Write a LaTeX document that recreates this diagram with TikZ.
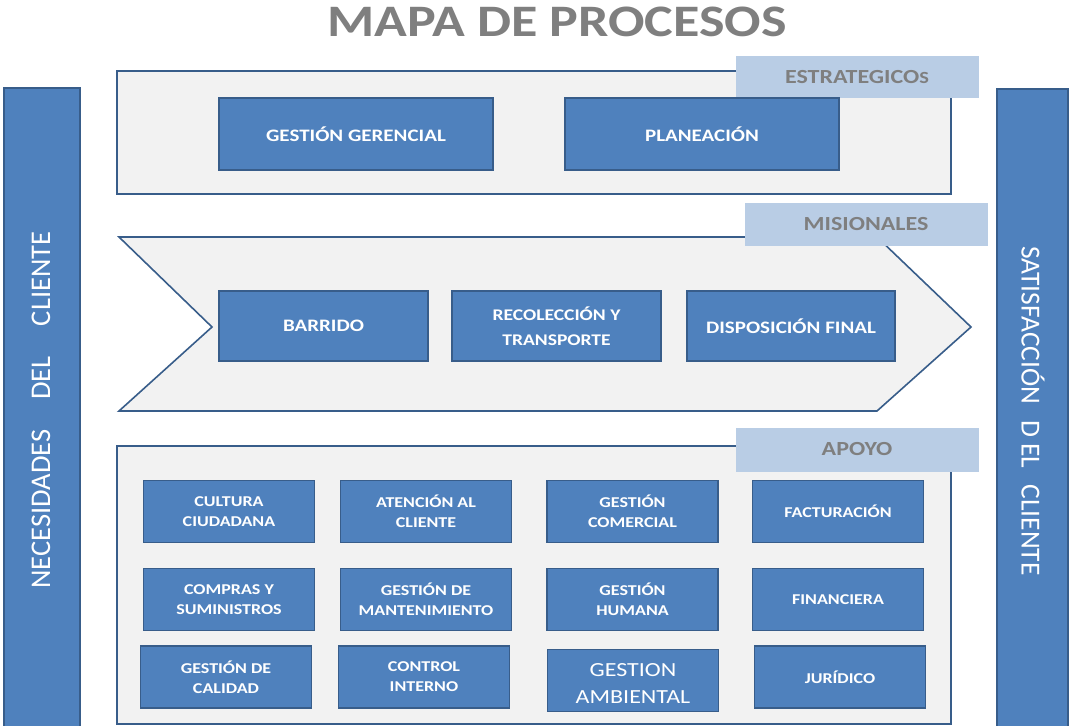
\documentclass[tikz,border=0pt]{standalone}
\usepackage{fontspec}
\setmainfont{Carlito}[FakeStretch=1.2]
\newfontfamily\sidefont{Carlito}
\usepackage{tikz}
\usetikzlibrary{positioning}
\definecolor{boxblue}{HTML}{4F81BD}
\definecolor{boxline}{HTML}{385D8A}
\definecolor{panelgray}{HTML}{F2F2F2}
\definecolor{tabblue}{HTML}{B9CDE5}
\definecolor{textgray}{HTML}{7F7F7F}
\tikzset{
  panel/.style={draw=boxline, fill=panelgray, line width=1.6pt},
  tab/.style={fill=tabblue, text=textgray, font=\bfseries\fontsize{20}{22}\selectfont},
  bar/.style={draw=boxline, fill=boxblue, line width=1.6pt},
  proc/.style={draw=boxline, fill=boxblue, line width=1.4pt, text=white,
    align=center, inner sep=0pt, font=\bfseries\fontsize{17.5}{22}\selectfont},
  small/.style={proc, minimum width=171pt, minimum height=62pt,
    font=\bfseries\fontsize{15}{20}\selectfont}
}

\begin{document}
\begin{tikzpicture}[x=1pt, y=-1pt]
  \clip (0,0) rectangle (1072,726);
  \fill[white] (0,0) rectangle (1072,726);

  % title
  \node[text=textgray, font=\bfseries\fontsize{45}{48}\selectfont] (title) at (557,22) {MAPA DE PROCESOS};

  % side bars
  \draw[bar] (4,88) rectangle (80,740);
  \draw[bar] (997,89) rectangle (1068,740);
  \node[rotate=90, text=white, font=\sidefont\fontsize{28.5}{28}\selectfont] (need) at (41,410)
    {NECESIDADES\hspace{30pt}DEL\hspace{30pt}CLIENTE};
  \node[rotate=-90, text=white, font=\sidefont\fontsize{27.5}{28}\selectfont] (satis) at (1033,411)
    {SATISFACCIÓN\hspace{16pt}D EL\hspace{16pt}CLIENTE};

  % estrategicos
  \draw[panel] (117,71) rectangle (951,194);
  \fill[tabblue] (736,56) rectangle (979,98);
  \node[tab] (estr) at (857,77) {ESTRATEGICO{\fontsize{17}{17}\selectfont S}};
  \node[proc, minimum width=274pt, minimum height=72pt] (gg) at (356,134) {GESTIÓN GERENCIAL};
  \node[proc, minimum width=274pt, minimum height=72pt] (plan) at (702,134) {PLANEACIÓN};

  % misionales
  \draw[panel] (119,237) -- (877,237) -- (971,327) -- (877,411) -- (119,411) -- (212,327) -- cycle;
  \fill[tabblue] (745,203) rectangle (988,246);
  \node[tab] (mis) at (866,224) {MISIONALES};
  \node[proc, minimum width=209pt, minimum height=70pt] (barr) at (323.5,326) {BARRIDO};
  \node[proc, minimum width=209pt, minimum height=70pt, font=\bfseries\fontsize{16.3}{25}\selectfont]
    (reco) at (556.5,326) {RECOLECCIÓN Y\\TRANSPORTE};
  \node[proc, minimum width=208pt, minimum height=70pt] (disp) at (791,326) {DISPOSICIÓN FINAL};

  % apoyo
  \draw[panel] (117,446) rectangle (951,724);
  \fill[tabblue] (736,428) rectangle (979,472);
  \node[tab] (apoyo) at (857,449) {APOYO};
  \node[small] (cult) at (229,511.5) {CULTURA\\CIUDADANA};
  \node[small] (aten) at (426,511.5) {ATENCIÓN AL\\CLIENTE};
  \node[small] (gcom) at (632.5,511.5) {GESTIÓN\\COMERCIAL};
  \node[small] (fact) at (838,511.5) {FACTURACIÓN};
  \node[small] (comp) at (229,599.5) {COMPRAS Y\\SUMINISTROS};
  \node[small] (mant) at (426,599.5) {GESTIÓN DE\\MANTENIMIENTO};
  \node[small] (ghum) at (632.5,599.5) {GESTIÓN\\HUMANA};
  \node[small] (fin) at (838,599.5) {FINANCIERA};
  \node[small] (cal) at (226,677) {GESTIÓN DE\\CALIDAD};
  \node[small] (ctrl) at (424,677) {CONTROL\\INTERNO};
  \node[small] (amb) at (633,680.5) {};
  \node[small] (jur) at (840,677) {JURÍDICO};
  \begin{scope}
    \clip (548,650) rectangle (718,702);
    \node[text=white, align=center, inner sep=0pt, font=\fontsize{20}{27}\selectfont]
      (ambtxt) at (633,684) {GESTION\\AMBIENTAL};
  \end{scope}
\end{tikzpicture}
\end{document}
